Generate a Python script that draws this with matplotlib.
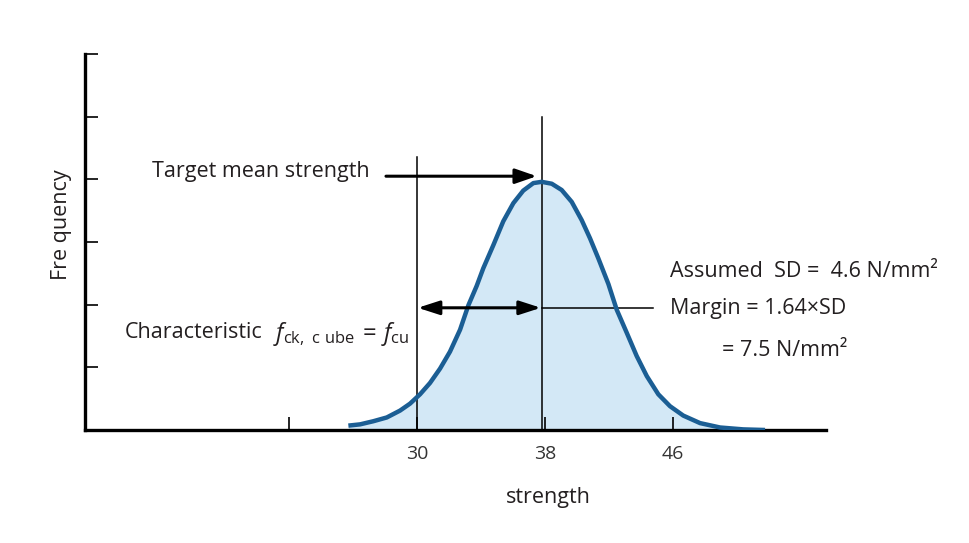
#! /usr/bin/env python
# normal distribution of concrete strength, target mean vs characteristic
import matplotlib
matplotlib.use("Agg")
import matplotlib.pyplot as plt

plt.rcParams['font.family'] = ['Open Sans', 'DejaVu Sans']
plt.rcParams['mathtext.fontset'] = 'custom'
plt.rcParams['mathtext.rm'] = 'Open Sans'
plt.rcParams['mathtext.it'] = 'Open Sans:italic'

# curve (strength, frequency)
strength = [25.71, 26.44, 27.27, 28.11, 28.94, 29.56, 30.19, 30.81, 31.44,
            32.06, 32.69, 33.21, 33.73, 34.14, 34.77, 35.39, 36.02, 36.64,
            37.27, 37.79, 38.42, 39.04, 39.67, 40.29, 40.81, 41.33, 41.96,
            42.48, 43.11, 43.73, 44.36, 45.08, 45.81, 46.64, 47.69, 48.94,
            50.39, 51.75]
frequency = [0.07, 0.09, 0.14, 0.20, 0.31, 0.42, 0.57, 0.75, 0.98,
             1.25, 1.60, 1.99, 2.30, 2.58, 2.95, 3.33, 3.62, 3.82,
             3.94, 3.96, 3.93, 3.83, 3.64, 3.35, 3.06, 2.74, 2.33,
             1.92, 1.55, 1.18, 0.86, 0.57, 0.38, 0.23, 0.11, 0.04,
             0.01, 0.0]

char_strength = 30.0
mean_strength = 37.79
xticks = [22, 30, 38, 46]
xtick_labels = ['', '30', '38', '46']
yticks = [0, 1, 2, 3, 4, 5, 6]

txt_col = '#231f20'
curve_col = '#1b5e94'
fill_col = '#d3e8f6'

fig = plt.figure(figsize=(9.69, 5.43), dpi=100)
ax = fig.add_axes([85/969, 1-430/543, 741/969, 376/543])

ax.fill_between(strength, 0, frequency, color=fill_col, lw=0, zorder=1)
ax.plot(strength, frequency, color=curve_col, lw=3.2, solid_joinstyle='round',
        solid_capstyle='butt', zorder=4)

# reference lines
ax.plot([char_strength, char_strength], [0, 4.35], color='black', lw=1.1, zorder=3)
ax.plot([mean_strength, mean_strength], [0, 5.0], color='black', lw=1.1, zorder=3)
ax.plot([mean_strength, 44.75], [1.95, 1.95], color='black', lw=1.1, zorder=3)

# arrows
ax.annotate('', xy=(37.48, 4.05), xytext=(28.06, 4.05),
            arrowprops=dict(arrowstyle='-|>,head_length=1.3,head_width=0.45',
                            color='black', lw=2.2, shrinkA=0, shrinkB=0), zorder=5)
ax.annotate('', xy=(mean_strength - 0.05, 1.95), xytext=(char_strength + 0.05, 1.95),
            arrowprops=dict(arrowstyle='<|-|>,head_length=1.3,head_width=0.42',
                            color='black', lw=2.2, shrinkA=0, shrinkB=0), zorder=5)

fs = 15.5
ax.text(13.44, 4.12, 'Target mean strength', fontsize=fs, color=txt_col,
        ha='left', va='center')
ax.text(11.75, 1.56, 'Characteristic', fontsize=fs, color=txt_col,
        ha='left', va='center')
ax.text(21.0, 1.53, r'$f_{\rm ck,\ c\ ube}\,=\,f_{\rm cu}$',
        fontsize=17, color=txt_col, ha='left', va='center')
ax.text(45.81, 2.53, 'Assumed  SD =  4.6 N/mm²', fontsize=fs, color=txt_col,
        ha='left', va='center')
ax.text(45.81, 1.94, 'Margin = 1.64×SD', fontsize=fs, color=txt_col,
        ha='left', va='center')
ax.text(49.06, 1.27, '= 7.5 N/mm²', fontsize=fs, color=txt_col,
        ha='left', va='center')

ax.set_xlim(9.25, 55.56)
ax.set_ylim(0, 6)
ax.set_xticks(xticks)
ax.set_xticklabels(xtick_labels)
ax.set_yticks(yticks)
ax.set_yticklabels([])
ax.tick_params(direction='in', length=9.5, width=1.2, colors='black',
               labelcolor='#333333', labelsize=14)
ax.tick_params(axis='x', pad=11)

for s in ['top', 'right']:
    ax.spines[s].set_visible(False)
for s in ['left', 'bottom']:
    ax.spines[s].set_linewidth(2.4)

ax.set_xlabel('strength', fontsize=fs, color=txt_col)
ax.xaxis.set_label_coords(0.625, -0.152)
ax.set_ylabel('Fre quency', fontsize=fs, color=txt_col)
ax.yaxis.set_label_coords(-0.017, 0.545)

plt.savefig("out.png", dpi=100)
